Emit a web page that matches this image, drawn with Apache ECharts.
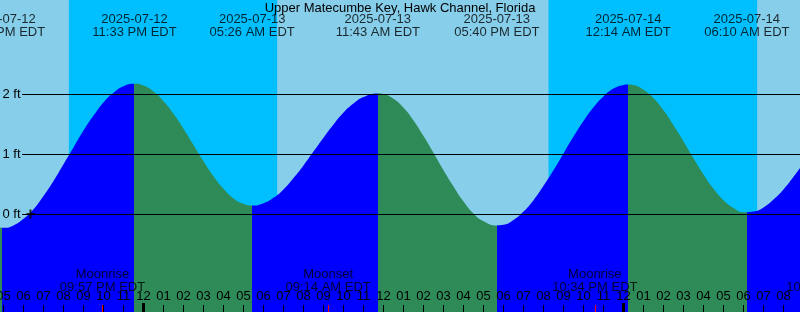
<!DOCTYPE html>
<html><head><meta charset="utf-8">
<script src="https://cdn.jsdelivr.net/npm/echarts@6/dist/echarts.min.js"></script>
<style>html,body{margin:0;padding:0;background:#87CEEB}#c{width:800px;height:312px}</style>
</head><body><div id="c"></div>
<script>
// ---------- data ----------
const chartTitle = 'Upper Matecumbe Key, Hawk Channel, Florida';
const viewStart = '2025-07-12 16:49:30';
const viewEnd   = '2025-07-14 08:49:30';

// tide level curve (ft)
const tideTimes = [
 '2025-07-12 16:45','2025-07-12 16:57','2025-07-12 17:00','2025-07-12 17:30','2025-07-12 18:00','2025-07-12 18:30',
 '2025-07-12 19:00','2025-07-12 19:30','2025-07-12 20:00','2025-07-12 20:30','2025-07-12 21:00','2025-07-12 21:30',
 '2025-07-12 22:00','2025-07-12 22:30','2025-07-12 23:00','2025-07-12 23:33',
 '2025-07-13 00:00','2025-07-13 00:30','2025-07-13 01:00','2025-07-13 01:30','2025-07-13 02:00','2025-07-13 02:30',
 '2025-07-13 03:00','2025-07-13 03:30','2025-07-13 04:00','2025-07-13 04:30','2025-07-13 05:00','2025-07-13 05:26',
 '2025-07-13 06:00','2025-07-13 06:30','2025-07-13 07:00','2025-07-13 07:30','2025-07-13 08:00','2025-07-13 08:30',
 '2025-07-13 09:00','2025-07-13 09:30','2025-07-13 10:00','2025-07-13 10:30','2025-07-13 11:00','2025-07-13 11:43',
 '2025-07-13 12:00','2025-07-13 12:30','2025-07-13 13:00','2025-07-13 13:30','2025-07-13 14:00','2025-07-13 14:30',
 '2025-07-13 15:00','2025-07-13 15:30','2025-07-13 16:00','2025-07-13 16:30','2025-07-13 17:00','2025-07-13 17:40',
 '2025-07-13 18:00','2025-07-13 18:30','2025-07-13 19:00','2025-07-13 19:30','2025-07-13 20:00','2025-07-13 20:30',
 '2025-07-13 21:00','2025-07-13 21:30','2025-07-13 22:00','2025-07-13 22:30','2025-07-13 23:00','2025-07-13 23:30',
 '2025-07-14 00:00','2025-07-14 00:14','2025-07-14 00:30','2025-07-14 01:00','2025-07-14 01:30','2025-07-14 02:00',
 '2025-07-14 02:30','2025-07-14 03:00','2025-07-14 03:30','2025-07-14 04:00','2025-07-14 04:30','2025-07-14 05:00',
 '2025-07-14 05:30','2025-07-14 06:00','2025-07-14 06:10','2025-07-14 06:30','2025-07-14 07:00','2025-07-14 07:30',
 '2025-07-14 08:00','2025-07-14 08:30','2025-07-14 09:00'
];
const tideLevels = [
 -0.22,-0.23,-0.23,-0.19,-0.08,0.08,
 0.30,0.55,0.83,1.11,1.39,1.64,
 1.86,2.02,2.13,2.17,
 2.14,2.04,1.88,1.67,1.42,1.15,
 0.88,0.63,0.42,0.26,0.17,0.14,
 0.18,0.27,0.41,0.60,0.81,1.04,
 1.27,1.49,1.69,1.84,1.95,2.01,
 2.00,1.92,1.77,1.56,1.30,1.02,
 0.73,0.46,0.21,0.01,-0.12,-0.19,
 -0.18,-0.10,0.04,0.23,0.47,0.73,
 1.01,1.29,1.55,1.78,1.96,2.09,
 2.15,2.16,2.15,2.07,1.93,1.73,
 1.48,1.21,0.93,0.66,0.42,0.23,
 0.10,0.03,0.03,0.04,0.11,0.24,
 0.41,0.62,0.85
];

// high / low tide events
const eventTimes  = ['2025-07-12 16:57','2025-07-12 23:33','2025-07-13 05:26','2025-07-13 11:43','2025-07-13 17:40','2025-07-14 00:14','2025-07-14 06:10'];
const eventKinds  = ['Low','High','Low','High','Low','High','Low'];

// moon events
const moonTimes = ['2025-07-12 21:57','2025-07-13 09:14','2025-07-13 22:34','2025-07-14 10:16'];
const moonKinds = ['Moonrise','Moonset','Moonrise','Moonset'];

// night periods
const nightStarts = ['2025-07-12 20:16','2025-07-13 20:15'];
const nightEnds   = ['2025-07-13 06:41','2025-07-14 06:41'];

// current-time mark
const nowMark = ['2025-07-12 18:21', 0];

// y ticks (ft)
const yTicks = [0, 1, 2];

// ---------- helpers ----------
const FONT = 'Liberation Sans';
const DAY_COLOR = '#87CEEB', NIGHT_COLOR = '#00BFFF', RISE_COLOR = '#0000FF', FALL_COLOR = '#2E8B57';
function toH(s){ // hours since 2025-07-12 00:00
  const m = s.match(/(\d+)-(\d+)-(\d+) (\d+):(\d+)(?::(\d+))?/);
  return (parseInt(m[3],10)-12)*24 + parseInt(m[4],10) + parseInt(m[5],10)/60 + (m[6]?parseInt(m[6],10)/3600:0);
}
function pad(n){ return (n<10?'0':'')+n; }
function time12(s){
  const m = s.match(/(\d+)-(\d+)-(\d+) (\d+):(\d+)/);
  let h = parseInt(m[4],10); const ap = h>=12?'PM':'AM'; h = h%12; if(h===0) h=12;
  return pad(h)+':'+m[5]+' '+ap+' EDT';
}
function dateOf(s){ return s.slice(0,10); }

const xMin = toH(viewStart), xMax = toH(viewEnd);
const PX_PER_FT = 60, ZERO_PX = 214, CH = 312;
const Y_MAX = ZERO_PX / PX_PER_FT, Y_MIN = -(CH - ZERO_PX) / PX_PER_FT;
function ftAtPixel(py){ return Y_MAX - py / PX_PER_FT; }

const hourTicks = [];
for (let h = Math.ceil(xMin); h <= Math.floor(xMax); h++) hourTicks.push(h);
const midnightTicks = hourTicks.filter(h => h % 24 === 0);
const moonHours = moonTimes.map(toH);

const eventHours = eventTimes.map(toH);
const pieces = [];
eventHours.forEach((t,i)=>{
  const col = eventKinds[i]==='High' ? RISE_COLOR : FALL_COLOR;
  if (i===0) pieces.push({lt:t, color:col}); else pieces.push({gte:eventHours[i-1], lt:t, color:col});
});
pieces.push({gte:eventHours[eventHours.length-1], color: eventKinds[eventKinds.length-1]==='Low' ? RISE_COLOR : FALL_COLOR});

const curveData = tideTimes.map((t,i)=>[toH(t), tideLevels[i]]);

const chart = echarts.init(document.getElementById('c'), null, {renderer:'canvas'});
chart.setOption({
  backgroundColor: DAY_COLOR,
  animation: false,
  title: {text: chartTitle, left:'center', top:0, padding:[2,0,0,0],
    textStyle:{fontSize:13, fontWeight:'normal', color:'#000', fontFamily:FONT}},
  grid: [
    {left:0, right:0, top:0, bottom:0, outerBoundsMode:'none', containLabel:false},
    {left:22, right:0, top:94, bottom:98, outerBoundsMode:'none', containLabel:false},
    {left:0, right:0, bottom:0, height:10, outerBoundsMode:'none', containLabel:false}
  ],
  xAxis: [
    {gridIndex:0, type:'value', min:xMin, max:xMax, show:false},
    {gridIndex:1, type:'value', min:xMin, max:xMax, show:false},
    {gridIndex:2, type:'value', min:xMin, max:xMax, position:'bottom', z:10,
      axisLine:{show:false}, splitLine:{show:false},
      axisTick:{show:true, inside:true, length:7, lineStyle:{color:'#000', width:1}, customValues: hourTicks},
      axisLabel:{show:true, inside:true, margin:9, customValues: hourTicks, color:'#000', fontSize:13, fontFamily:FONT,
        formatter: v => { let h = Math.round(v)%12; if(h===0) h=12; return pad(h); }}},
    {gridIndex:2, type:'value', min:xMin, max:xMax, position:'bottom', z:11,
      axisLine:{show:false}, splitLine:{show:false}, axisLabel:{show:false},
      axisTick:{show:true, inside:true, length:9, lineStyle:{color:'#000', width:3}, customValues: midnightTicks}},
    {gridIndex:2, type:'value', min:xMin, max:xMax, position:'bottom', z:11,
      axisLine:{show:false}, splitLine:{show:false}, axisLabel:{show:false},
      axisTick:{show:true, inside:true, length:7, lineStyle:{color:'#FF0000', width:1}, customValues: moonHours.filter(h=>h>=xMin && h<=xMax)}}
  ],
  yAxis: [
    {gridIndex:0, type:'value', min:Y_MIN, max:Y_MAX, show:false},
    {gridIndex:1, type:'value', min:0, max:2, interval:1, z:10,
      axisLine:{show:false}, axisTick:{show:false},
      axisLabel:{margin:1.5, color:'#000', fontSize:13, fontFamily:FONT, customValues: yTicks, formatter: v => v + ' ft'},
      splitLine:{show:true, lineStyle:{color:'#000', width:1}}},
    {gridIndex:2, type:'value', show:false}
  ],
  visualMap: {type:'piecewise', show:false, dimension:0, seriesIndex:1, pieces: pieces},
  series: [
    {type:'line', xAxisIndex:0, yAxisIndex:0, data:[], silent:true, z:1,
      markArea:{silent:true, itemStyle:{color:NIGHT_COLOR, opacity:1},
        data: nightStarts.map((s,i)=>[{xAxis: toH(s)}, {xAxis: toH(nightEnds[i])}])}},
    {type:'line', xAxisIndex:0, yAxisIndex:0, data: curveData, smooth:true,
      showSymbol:false, silent:true, z:2, lineStyle:{width:0, opacity:0},
      areaStyle:{opacity:1, origin:'start'}},
    {type:'scatter', xAxisIndex:0, yAxisIndex:0, z:12, silent:true,
      symbol:'path://M3,0h2v3.5h3v2h-3v3.5h-2v-3.5h-3v-2h3z', symbolSize:[8,9], itemStyle:{color:'#000'},
      data:[[toH(nowMark[0]), nowMark[1]]]},
    {type:'scatter', xAxisIndex:0, yAxisIndex:0, z:13, silent:true, clip:false,
      symbol:'circle', symbolSize:1, itemStyle:{color:'rgba(0,0,0,0)'},
      label:{show:true, position:'inside', color:'#000', fontSize:13, fontFamily:FONT, lineHeight:12.5, align:'center',
        formatter: p => dateOf(eventTimes[p.dataIndex]) + '\n' + time12(eventTimes[p.dataIndex])},
      data: eventHours.map(t => [t, ftAtPixel(25.75)])},
    {type:'scatter', xAxisIndex:0, yAxisIndex:0, z:13, silent:true, clip:false,
      symbol:'circle', symbolSize:1, itemStyle:{color:'rgba(0,0,0,0)'},
      label:{show:true, position:'inside', color:'#000', fontSize:13, fontFamily:FONT, lineHeight:13, align:'center',
        formatter: p => moonKinds[p.dataIndex] + '\n' + time12(moonTimes[p.dataIndex])},
      data: moonHours.map(t => [t, ftAtPixel(280.5)])}
  ]
});
</script></body></html>
